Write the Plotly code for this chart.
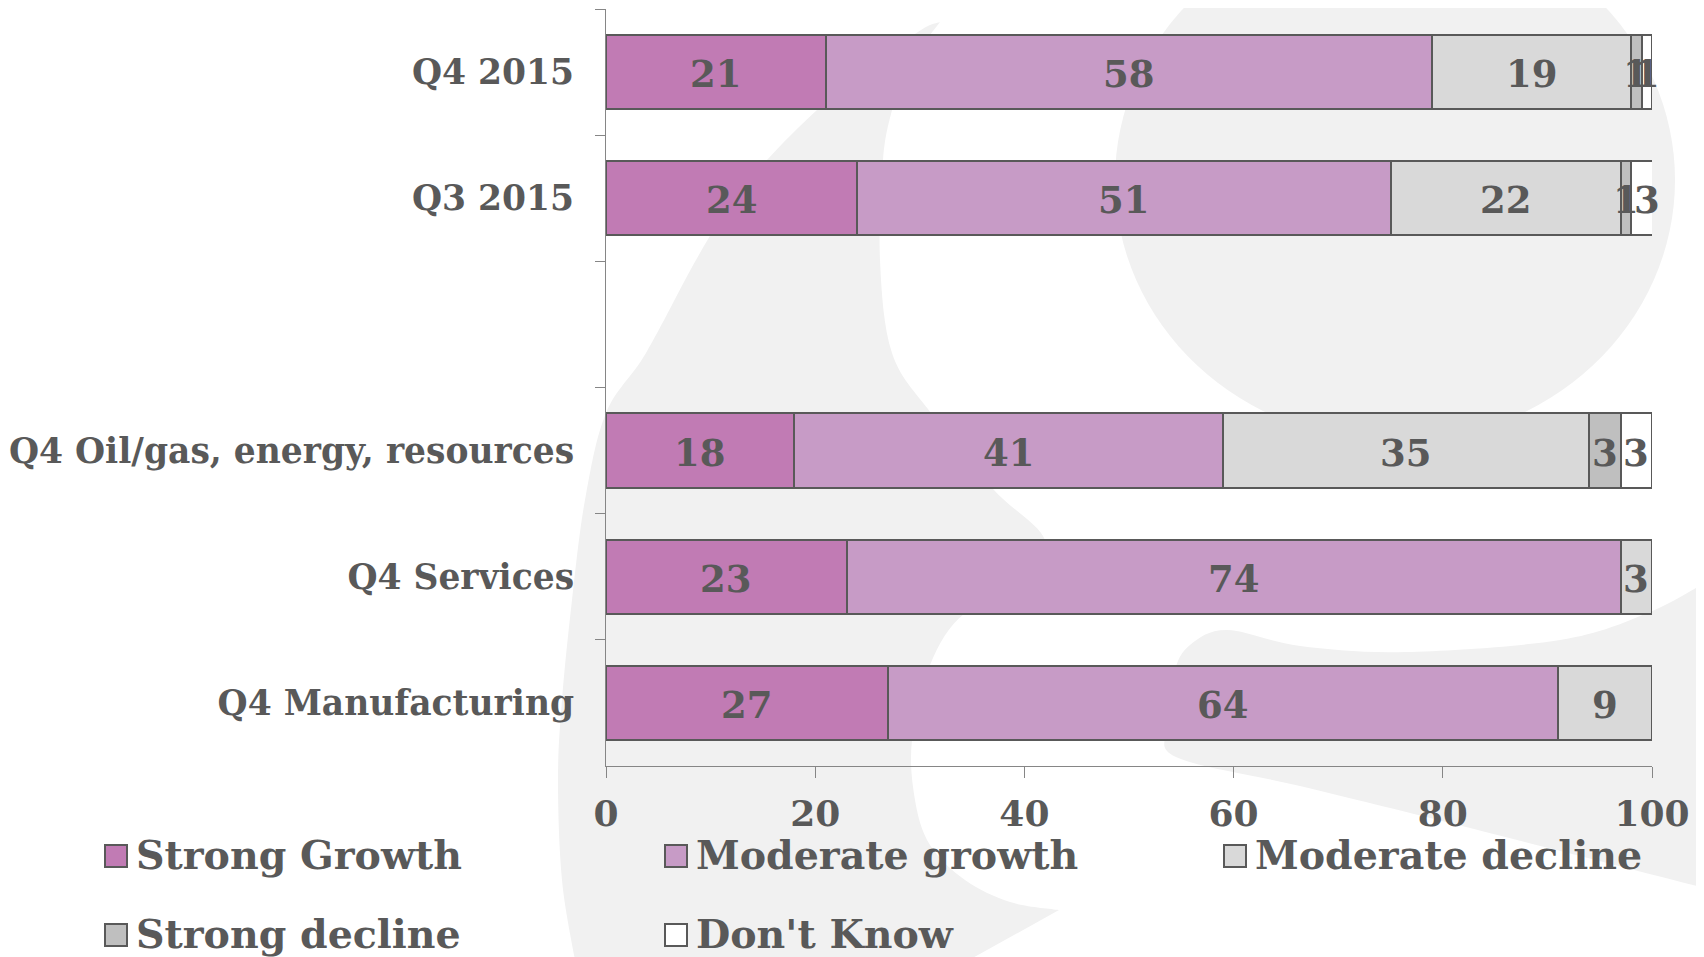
import plotly.graph_objects as go

# ---------------- data ----------------
categories = ["Q4 2015", "Q3 2015", " ", "Q4 Oil/gas, energy, resources",
              "Q4 Services", "Q4 Manufacturing"]
series_names = ["Strong Growth", "Moderate growth", "Moderate decline",
                "Strong decline", "Don't Know"]
strong_growth = [21, 24, None, 18, 23, 27]
moderate_growth = [58, 51, None, 41, 74, 64]
moderate_decline = [19, 22, None, 35, 3, 9]
strong_decline = [1, 1, None, 3, None, None]
dont_know = [1, 3, None, 3, None, None]
x_ticks = [0, 20, 40, 60, 80, 100]

series_values = [strong_growth, moderate_growth, moderate_decline,
                 strong_decline, dont_know]
colors = ["#C17BB4", "#C79BC6", "#D9D9D9", "#BFBFBF", "#FFFFFF"]

# ---------------- layout geometry (pixels) ----------------
OFF = 8                      # page body margin of the html page
W, H = 1704 - OFF, 957 - OFF
ML, MR, MT = 598, 52, 1
PW = W - ML - MR
PH = 757
MB = H - MT - PH
TXT = "#595959"
FONT = "DejaVu Serif"
BG_GREY = "#F1F1F1"


def px(xs):
    """screenshot pixel x -> paper x"""
    return (xs - OFF - ML) / PW


def py(ys):
    """screenshot pixel y -> paper y"""
    return (OFF + MT + PH - ys) / PH


def smooth(points, start=True):
    """Catmull-Rom spline through pixel points -> SVG path in paper coords."""
    pts = [(px(a), py(b)) for a, b in points]
    s = ("M%.5f,%.5f" if start else " L%.5f,%.5f") % pts[0]
    n = len(pts)
    for i in range(n - 1):
        p0 = pts[i - 1] if i > 0 else pts[i]
        p1 = pts[i]
        p2 = pts[i + 1]
        p3 = pts[i + 2] if i + 2 < n else pts[i + 1]
        c1 = (p1[0] + (p2[0] - p0[0]) / 6, p1[1] + (p2[1] - p0[1]) / 6)
        c2 = (p2[0] - (p3[0] - p1[0]) / 6, p2[1] - (p3[1] - p1[1]) / 6)
        s += " C%.5f,%.5f %.5f,%.5f %.5f,%.5f" % (c1 + c2 + p2)
    return s


# background logo shapes (decoration)
band_outer = [(940, 22), (921, 30), (870, 67), (817, 110), (767, 160), (730, 205),
              (696, 260), (646, 353), (606, 413), (585, 500), (572, 600),
              (562, 700), (558, 780), (562, 880), (575, 960)]
band_inner = [(1059, 910), (1010, 902), (965, 880), (930, 845), (915, 800),
              (912, 740), (930, 665), (965, 613), (1030, 585), (1045, 540),
              (993, 489), (931, 413), (892, 353), (880, 260), (883, 160),
              (892, 110), (905, 70), (940, 22)]
band_path = smooth(band_outer) + " L%.5f,%.5f" % (px(969), py(960)) + \
    smooth(band_inner, start=False) + " Z"

tail_pts = [(1720, 574), (1650, 612), (1560, 640), (1405, 652), (1300, 646),
            (1227, 630), (1190, 645), (1174, 673), (1169, 723), (1176, 757),
            (1300, 786), (1450, 823), (1720, 892)]
tail_path = smooth(tail_pts) + " Z"

shapes = [
    dict(type="path", path=band_path, xref="paper", yref="paper",
         fillcolor=BG_GREY, line=dict(width=0), layer="below"),
    dict(type="path", path=tail_path, xref="paper", yref="paper",
         fillcolor=BG_GREY, line=dict(width=0), layer="below"),
    dict(type="circle", xref="paper", yref="paper",
         x0=px(1115), x1=px(1675), y0=py(442), y1=py(-82),
         fillcolor=BG_GREY, line=dict(width=0), layer="below"),
]

annotations = []

# legend drawn manually (3 columns, 2 rows)
leg_cols = [105, 665, 1224]
leg_rows = [845, 924]
sq = 22
for i, name in enumerate(series_names):
    cx = leg_cols[i % 3]
    ry = leg_rows[i // 3]
    shapes.append(dict(type="rect", xref="paper", yref="paper",
                       x0=px(cx), x1=px(cx + sq), y0=py(ry + sq), y1=py(ry),
                       fillcolor=colors[i], line=dict(color=TXT, width=2),
                       layer="above"))
    annotations.append(dict(text=name, xref="paper", yref="paper",
                            x=px(cx + 29), y=py(ry + sq - 12),
                            xanchor="left", yanchor="middle", showarrow=False,
                            font=dict(family=FONT, size=39.5, color=TXT, weight="bold")))

# value labels centred in each segment (positions from the data on the axes)
for ci, cat in enumerate(categories):
    cum = 0
    for vals in series_values:
        v = vals[ci]
        if v is None:
            continue
        annotations.append(dict(text=str(v), xref="x", yref="y", x=cum + v / 2, y=cat,
                                xanchor="center", yanchor="middle", showarrow=False,
                                yshift=-2,
                                font=dict(family=FONT, size=37, color=TXT, weight="bold")))
        cum += v

fig = go.Figure()
for name, vals, col in zip(series_names, series_values, colors):
    fig.add_trace(go.Bar(
        y=categories, x=vals, name=name, orientation="h",
        marker=dict(color=col, line=dict(color=TXT, width=2)),
        showlegend=False, hoverinfo="x+name",
    ))

fig.update_layout(
    width=W, height=H,
    barmode="stack", bargap=0.41,
    margin=dict(l=ML, r=MR, t=MT, b=MB, pad=0),
    paper_bgcolor="white", plot_bgcolor="rgba(0,0,0,0)",
    shapes=shapes, annotations=annotations,
    showlegend=False,
    xaxis=dict(range=[0, 100], tickvals=x_ticks, ticks="outside", ticklen=11,
               tickcolor="#868686", showline=True, linecolor="#868686", linewidth=1,
               showgrid=False, zeroline=False, ticklabelstandoff=5,
               tickfont=dict(family=FONT, size=36, color=TXT, weight="bold")),
    yaxis=dict(categoryorder="array", categoryarray=categories, autorange="reversed",
               tickson="boundaries", ticks="outside", ticklen=10, tickcolor="#868686",
               showline=True, linecolor="#868686", linewidth=1, showgrid=False,
               zeroline=False, ticklabelstandoff=24,
               tickfont=dict(family=FONT, size=34.5, color=TXT, weight="bold")),
)

fig.write_html("out.html")
